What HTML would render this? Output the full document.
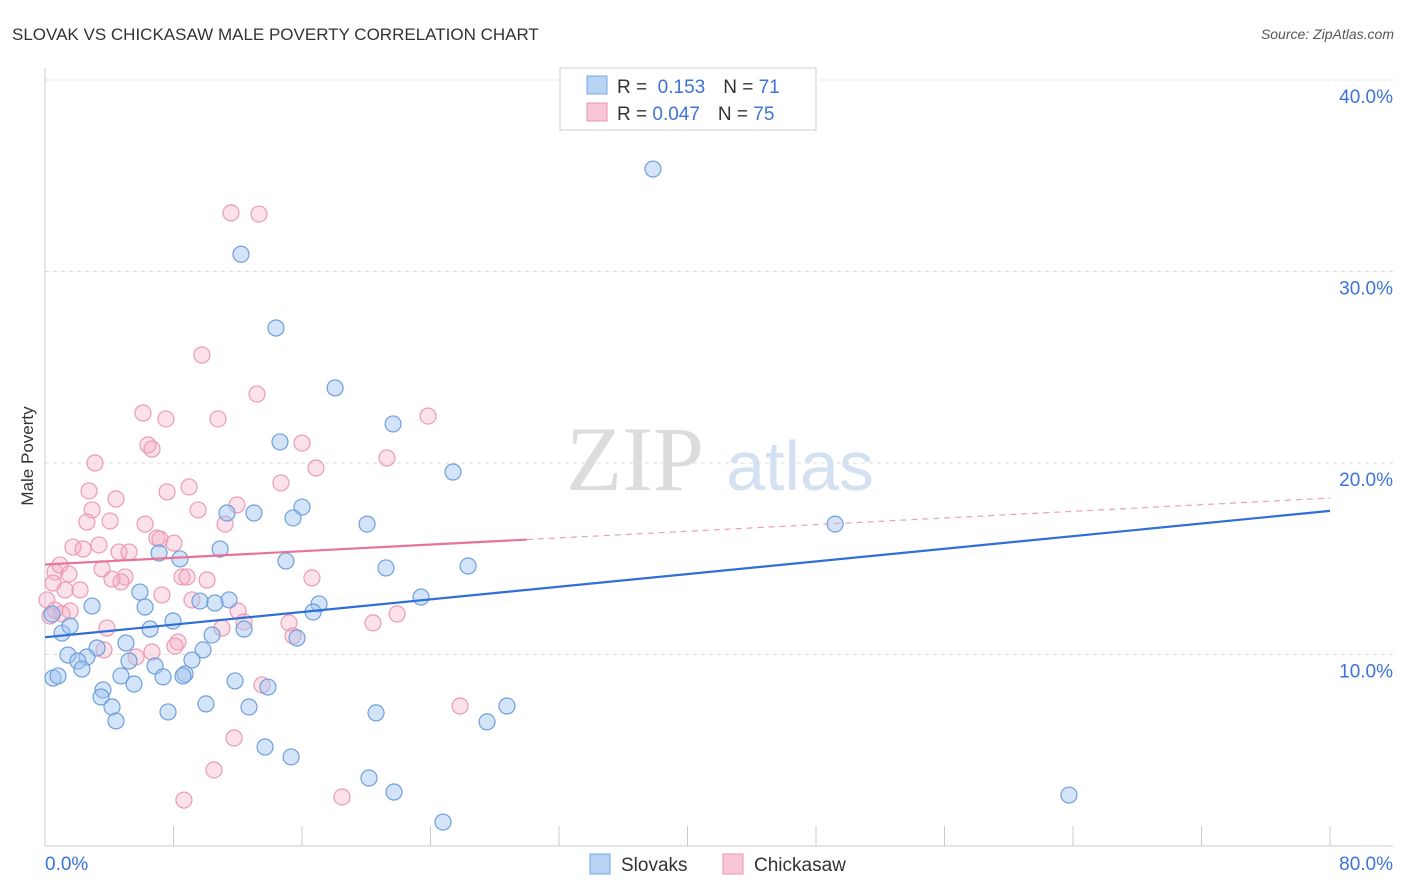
<!DOCTYPE html>
<html><head><meta charset="utf-8"><style>
body{margin:0;background:#fff;font-family:"Liberation Sans",sans-serif;}
svg{display:block}
</style></head><body>
<svg id="chart" width="1406" height="892">
<text x="12" y="40" font-size="17" fill="#333">SLOVAK VS CHICKASAW MALE POVERTY CORRELATION CHART</text>
<text x="1394" y="39" font-size="14" fill="#555" font-style="italic" text-anchor="end">Source: ZipAtlas.com</text>
<text x="0" y="0" font-size="17" fill="#333" text-anchor="middle" transform="translate(33,456) rotate(-90)">Male Poverty</text>
<g><text x="635" y="490" font-size="92" fill="#dcdcdc" font-family="Liberation Serif" text-anchor="middle">ZIP</text><text x="800" y="490" font-size="70" fill="#d3e1f3" text-anchor="middle">atlas</text></g>
<g id="grid"></g><g id="axes"></g><g id="pts"></g><g id="lines"></g>
<g>
<rect x="560" y="68" width="256" height="62" fill="#fff" stroke="#ccc"/>
<rect x="587" y="76" width="20" height="18" fill="#b8d3f3" stroke="#7aa7e0"/>
<rect x="587" y="103" width="20" height="18" fill="#f8c6d6" stroke="#e996b0"/>
<text x="617" y="93" font-size="19" fill="#333">R = <tspan fill="#3b73d9">&#160;0.153</tspan><tspan dx="18">N = </tspan><tspan fill="#3b73d9"> 71</tspan></text>
<text x="617" y="120" font-size="19" fill="#333">R = <tspan fill="#3b73d9">0.047</tspan><tspan dx="18">N = </tspan><tspan fill="#3b73d9">75</tspan></text>
</g>
<g>
<rect x="590" y="854" width="20" height="20" fill="#b8d3f3" stroke="#7aa7e0"/>
<text x="621" y="871" font-size="19" fill="#333">Slovaks</text>
<rect x="723" y="854" width="20" height="20" fill="#f8c6d6" stroke="#e996b0"/>
<text x="754" y="871" font-size="19" fill="#333">Chickasaw</text>
</g>
</svg>
<script>
const yTicks=[10,20,30,40];
const yTickLabels=["10.0%","20.0%","30.0%","40.0%"];
const xTickLabels=["0.0%","80.0%"];
const slovakX=[37.85,12.2,14.38,18.06,21.67,14.63,25.4,49.19,20.05,11.33,13.01,16.0,15.44,10.9,7.1,8.4,15.0,21.23,26.34,23.41,5.91,9.65,2.93,6.23,11.46,10.58,17.06,16.69,7.97,12.39,6.54,0.44,1.06,1.56,10.4,15.69,5.04,3.24,1.43,2.61,9.84,5.23,2.05,9.15,6.85,2.3,8.72,7.35,4.73,0.5,0.81,8.59,11.83,13.88,5.54,3.61,3.49,10.02,4.17,12.7,7.66,20.61,28.76,27.52,4.42,13.7,15.32,20.17,21.73,63.75,24.78];
const slovakY=[35.35,30.9,27.05,23.92,22.04,21.1,19.53,16.81,16.81,17.39,17.39,17.7,17.13,15.51,15.3,14.99,14.88,14.52,14.62,13.0,13.26,12.79,12.53,12.48,12.85,12.69,12.64,12.22,11.75,11.33,11.33,12.11,11.12,11.49,11.02,10.86,10.6,10.34,9.97,9.87,10.24,9.66,9.66,9.71,9.4,9.24,8.98,8.83,8.88,8.77,8.88,8.88,8.62,8.3,8.46,8.15,7.78,7.42,7.26,7.26,7.0,6.95,7.31,6.48,6.53,5.17,4.65,3.55,2.82,2.66,1.25];
const chickX=[11.58,13.32,9.77,13.2,6.1,7.53,10.77,23.85,6.41,6.66,16.0,3.11,21.29,16.87,2.74,7.6,8.97,4.42,14.69,11.95,2.93,9.53,2.61,4.05,11.21,6.23,6.97,7.16,8.03,1.74,2.37,3.36,4.61,5.23,0.93,0.62,1.49,3.55,4.98,4.73,4.17,8.53,8.84,10.09,16.62,0.5,1.25,2.18,7.28,9.15,0.12,0.62,1.56,0.31,12.02,12.39,15.19,20.42,21.92,3.86,11.02,3.67,8.28,8.09,6.66,5.67,13.51,25.84,11.77,10.52,8.65,18.49,15.44,1.06];
const chickY=[33.06,33.0,25.64,23.6,22.61,22.3,22.3,22.45,20.94,20.73,21.04,20.0,20.26,19.74,18.54,18.49,18.75,18.12,18.96,17.81,17.55,17.55,16.92,16.97,16.81,16.81,16.08,16.03,15.82,15.61,15.51,15.72,15.35,15.35,14.67,14.31,14.2,14.47,14.05,13.79,13.94,14.05,14.05,13.89,14.0,13.73,13.37,13.37,13.11,12.85,12.85,12.32,12.27,12.01,12.27,11.7,11.65,11.65,12.12,11.38,11.38,10.24,10.65,10.44,10.13,9.87,8.41,7.31,5.64,3.97,2.4,2.56,10.97,12.12];
const slovakTrend=[10.9,17.5];
const chickTrend=[14.7,18.17];
const chickSolidEnd=30;

const NS="http://www.w3.org/2000/svg";
const X0=45,X1=1330,Y0=846,PPY=19.15;
const xs=v=>X0+(v/80)*(X1-X0);
const ys=v=>Y0-v*PPY;
function mk(parent,tag,attrs){const e=document.createElementNS(NS,tag);for(const k in attrs)e.setAttribute(k,attrs[k]);document.getElementById(parent).appendChild(e);return e;}

yTicks.forEach((t,i)=>{
  const g=mk('grid','line',{x1:X0,x2:1393,y1:ys(t),y2:ys(t),stroke:'#ddd','stroke-dasharray':'4,4'});
  
  
  const l=mk('grid','text',{x:1393,y:ys(t)+23,'font-size':19,fill:'#3b73d9','text-anchor':'end'});
  l.textContent=yTickLabels[i];
  
  
});
const a1=mk('axes','line',{x1:X0,x2:X0,y1:68,y2:846,stroke:'#ccc'});


const a2=mk('axes','line',{x1:X0,x2:1393,y1:846,y2:846,stroke:'#ccc'});


for(let i=0;i<=10;i++){
  const t=mk('axes','line',{x1:xs(i*8),x2:xs(i*8),y1:826,y2:846,stroke:'#ccc'});
  
  
}
const xl0=mk('axes','text',{x:45,y:870,'font-size':19,fill:'#3b73d9'});
xl0.textContent=xTickLabels[0];


const xl1=mk('axes','text',{x:1393,y:870,'font-size':19,fill:'#3b73d9','text-anchor':'end'});
xl1.textContent=xTickLabels[1];



chickX.forEach((x,i)=>{
  const c=mk('pts','circle',{cx:xs(x),cy:ys(chickY[i]),r:8,fill:'rgba(244,170,196,0.35)',stroke:'#ec9ab5','stroke-width':1.2});
  
  
});
slovakX.forEach((x,i)=>{
  const c=mk('pts','circle',{cx:xs(x),cy:ys(slovakY[i]),r:8,fill:'rgba(160,196,240,0.45)',stroke:'#6f9fdc','stroke-width':1.2});
  
  
});
const bl=mk('lines','line',{x1:xs(0),y1:ys(slovakTrend[0]),x2:xs(80),y2:ys(slovakTrend[1]),stroke:'#2f6fd6','stroke-width':2.2});


const cm=chickTrend[0]+(chickTrend[1]-chickTrend[0])*chickSolidEnd/80;
const pl=mk('lines','line',{x1:xs(0),y1:ys(chickTrend[0]),x2:xs(chickSolidEnd),y2:ys(cm),stroke:'#e8729a','stroke-width':2.2});


const pd=mk('lines','line',{x1:xs(chickSolidEnd),y1:ys(cm),x2:xs(80),y2:ys(chickTrend[1]),stroke:'#eaa0b8','stroke-width':1.2,'stroke-dasharray':'6,5'});


</script>
</body></html>
